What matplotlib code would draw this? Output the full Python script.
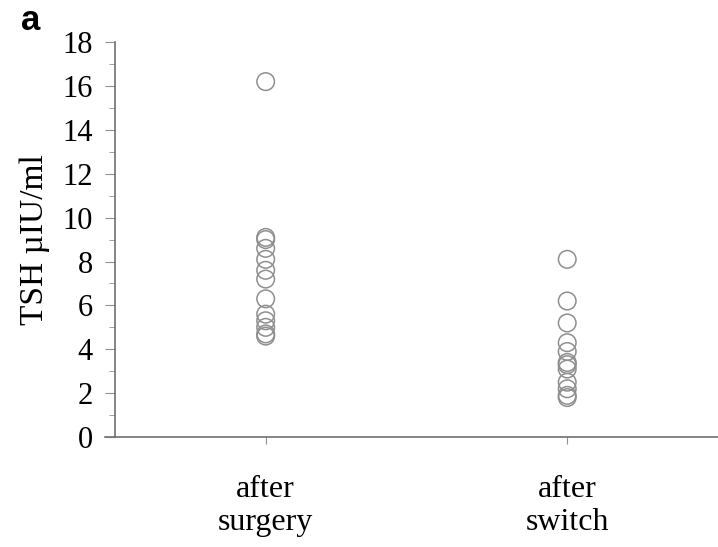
import matplotlib
matplotlib.use('Agg')
import matplotlib.pyplot as plt
from matplotlib.ticker import MultipleLocator

groups = ['after\nsurgery', 'after\nswitch']
tsh_surgery = [16.2, 9.1, 9.0, 8.6, 8.1, 7.6, 7.2, 6.3, 5.6, 5.3, 5.0, 4.7, 4.6]
tsh_switch = [8.1, 6.2, 5.2, 4.3, 3.9, 3.4, 3.3, 3.1, 2.5, 2.2, 1.9, 1.8]

plt.rcParams['font.family'] = ['Liberation Serif', 'DejaVu Serif']

fig = plt.figure(figsize=(7.18, 5.47), dpi=100)
ax = fig.add_axes([0.160, 0.201, 0.840, 0.722])

for i, vals in enumerate([tsh_surgery, tsh_switch]):
    ax.scatter([i] * len(vals), vals, s=160, facecolors='none',
               edgecolors='#8f8f8f', linewidths=1.1, zorder=3)

ax.set_xlim(-0.5, 1.5)
ax.set_ylim(0, 18)
ax.yaxis.set_major_locator(MultipleLocator(2))
ax.yaxis.set_minor_locator(MultipleLocator(1))
ax.set_xticks([0, 1])
ax.set_xticklabels(groups, linespacing=1.22)

for s in ['top', 'right']:
    ax.spines[s].set_visible(False)
for s in ['left', 'bottom']:
    ax.spines[s].set_color('#707070')
    ax.spines[s].set_linewidth(1.2)
ax.spines['bottom'].set_bounds(-0.533, 1.5)

ax.tick_params(axis='y', which='major', length=7, color='#909090',
               labelsize=22, pad=9)
ax.tick_params(axis='y', which='minor', length=4, color='#909090')
ax.tick_params(axis='x', length=5, color='#909090', labelsize=23, pad=22)

ax.set_ylabel('TSH µIU/ml', fontsize=24, labelpad=9)

fig.text(0.029, 0.945, 'a', fontsize=25, fontweight='bold',
         family='Liberation Sans')

fig.savefig('out.png', dpi=100)
